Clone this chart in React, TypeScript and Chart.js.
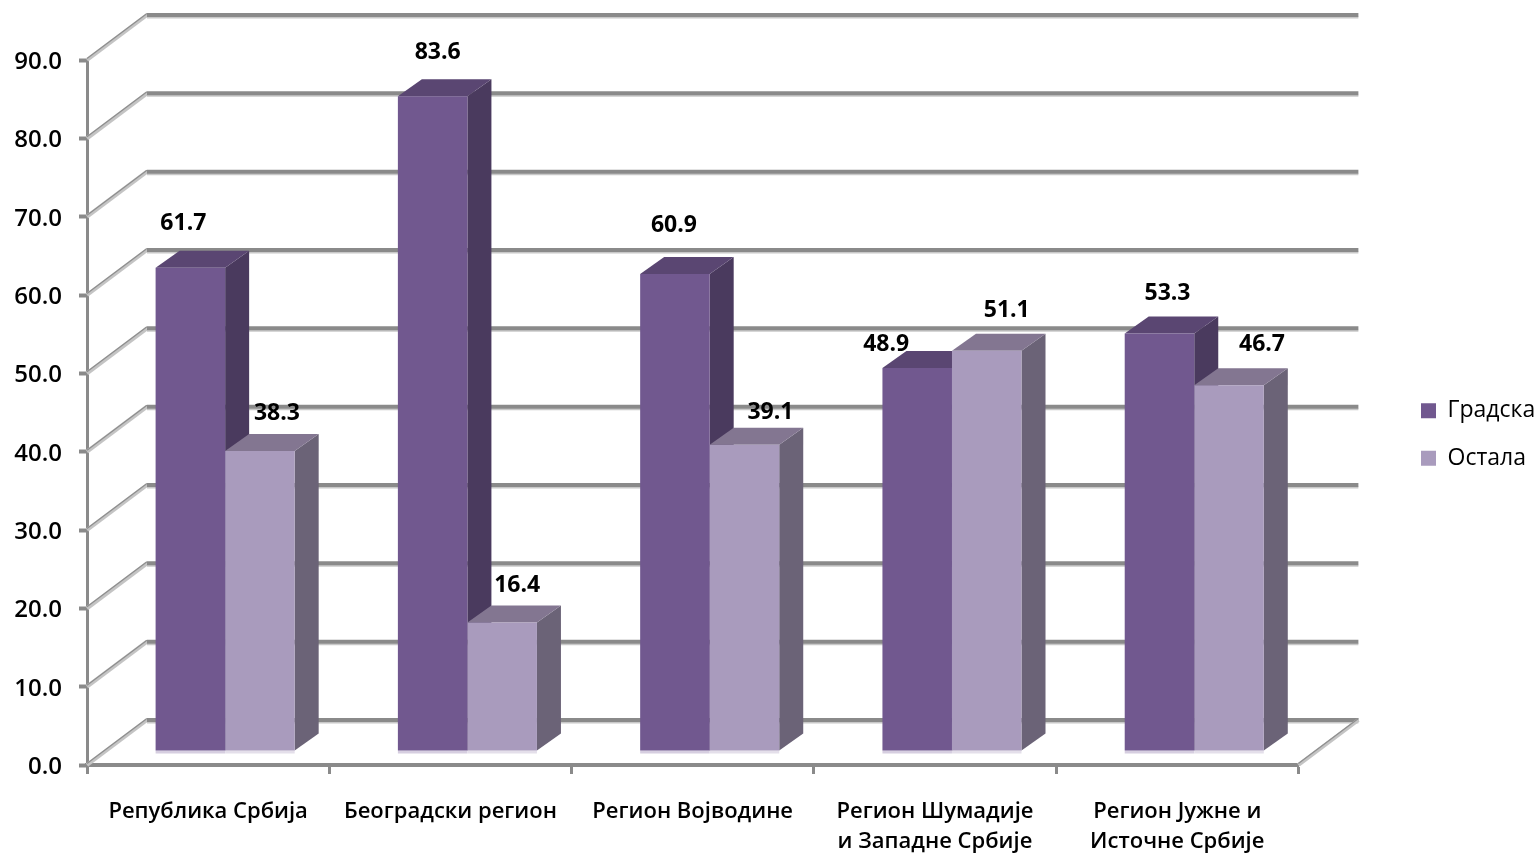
import React, { useEffect, useRef } from "react";
import { Chart, registerables } from "chart.js";

Chart.register(...registerables);

const categories = [
  "Република Србија",
  "Београдски регион",
  "Регион Војводине",
  ["Регион Шумадије", "и Западне Србије"],
  ["Регион Јужне и", "Источне Србије"],
];
const gradska = [61.7, 83.6, 60.9, 48.9, 53.3];
const ostala = [38.3, 16.4, 39.1, 51.1, 46.7];

// manual data-label nudges in px from the top-centre of each bar's front face
const labelNudgeGradska = [[-7, -46], [5, -46], [-1, -50], [-31, -25], [8, -42]];
const labelNudgeOstala = [[17, -40], [15, -39], [26, -34], [20, -42], [33, -43]];

const FONT = "'Open Sans', 'Liberation Sans', sans-serif";
const WALL = { dx: 60, dy: -45 };
const BAR_SHIFT = { dx: 17, dy: -14 };
const DEPTH = { dx: 24, dy: -17 };
const FACES = [
  { front: "#71588F", top: "#5A4672", side: "#4A3A5E", strip: "#D6CEE0" },
  { front: "#A99BBD", top: "#837691", side: "#6B6377", strip: "#E4DFEA" },
];
const LABEL_NUDGES = [labelNudgeGradska, labelNudgeOstala];

function drawDepthFaces(chart: any, index: number) {
  const { ctx } = chart;
  const face = FACES[index];
  chart.getDatasetMeta(index).data.forEach((bar: any) => {
    const l = bar.x - bar.width / 2;
    const r = bar.x + bar.width / 2;
    const t = bar.y;
    const b = bar.base;
    ctx.fillStyle = face.strip;
    ctx.fillRect(l, b, r - l, 3);
    ctx.fillStyle = face.side;
    ctx.beginPath();
    ctx.moveTo(r, t);
    ctx.lineTo(r + DEPTH.dx, t + DEPTH.dy);
    ctx.lineTo(r + DEPTH.dx, b + DEPTH.dy);
    ctx.lineTo(r, b);
    ctx.closePath();
    ctx.fill();
    ctx.fillStyle = face.top;
    ctx.beginPath();
    ctx.moveTo(l, t);
    ctx.lineTo(l + DEPTH.dx, t + DEPTH.dy);
    ctx.lineTo(r + DEPTH.dx, t + DEPTH.dy);
    ctx.lineTo(r, t);
    ctx.closePath();
    ctx.fill();
  });
}

const wallPlugin = {
  id: "wall3d",
  beforeDatasetsDraw(chart: any) {
    const { ctx, chartArea, scales } = chart;
    const { left, right } = chartArea;
    const yScale = scales.y;
    ctx.save();
    ctx.lineCap = "butt";
    yScale.ticks.forEach((_: any, i: number) => {
      const y = yScale.getPixelForTick(i);
      // side-wall diagonal
      ctx.strokeStyle = "#C4C4C4";
      ctx.lineWidth = 4;
      ctx.beginPath();
      ctx.moveTo(left, y);
      ctx.lineTo(left + WALL.dx, y + WALL.dy);
      ctx.stroke();
      ctx.strokeStyle = "#8E8E8E";
      ctx.lineWidth = 1.2;
      ctx.beginPath();
      ctx.moveTo(left, y - 1.5);
      ctx.lineTo(left + WALL.dx, y + WALL.dy - 1.5);
      ctx.stroke();
      // back-wall line
      ctx.strokeStyle = "#C8C8C8";
      ctx.lineWidth = 2;
      ctx.beginPath();
      ctx.moveTo(left + WALL.dx, y + WALL.dy + 2.5);
      ctx.lineTo(right + WALL.dx, y + WALL.dy + 2.5);
      ctx.stroke();
      ctx.strokeStyle = "#8A8A8A";
      ctx.lineWidth = 4;
      ctx.beginPath();
      ctx.moveTo(left + WALL.dx, y + WALL.dy);
      ctx.lineTo(right + WALL.dx, y + WALL.dy);
      ctx.stroke();
    });
    // floor, right edge
    const y0 = yScale.getPixelForValue(0);
    ctx.strokeStyle = "#C4C4C4";
    ctx.lineWidth = 4;
    ctx.beginPath();
    ctx.moveTo(right, y0);
    ctx.lineTo(right + WALL.dx, y0 + WALL.dy);
    ctx.stroke();
    ctx.strokeStyle = "#8E8E8E";
    ctx.lineWidth = 1.2;
    ctx.beginPath();
    ctx.moveTo(right, y0 - 1.5);
    ctx.lineTo(right + WALL.dx, y0 + WALL.dy - 1.5);
    ctx.stroke();
    ctx.restore();
  },
  // Chart.js draws dataset 1 first and dataset 0 last. Depth faces of the left
  // bar must lie beneath the right bar's front, so they are all painted before dataset 1.
  beforeDatasetDraw(chart: any, args: any) {
    const { ctx } = chart;
    ctx.save();
    ctx.translate(BAR_SHIFT.dx, BAR_SHIFT.dy);
    if (args.index === 1) {
      drawDepthFaces(chart, 0);
      drawDepthFaces(chart, 1);
    }
  },
  afterDatasetDraw(chart: any) {
    chart.ctx.restore();
  },
  afterDatasetsDraw(chart: any) {
    const { ctx } = chart;
    ctx.save();
    ctx.fillStyle = "#000";
    ctx.font = `700 23px ${FONT}`;
    ctx.textAlign = "center";
    ctx.textBaseline = "middle";
    chart.data.datasets.forEach((ds: any, di: number) => {
      chart.getDatasetMeta(di).data.forEach((bar: any, i: number) => {
        const [nx, ny] = LABEL_NUDGES[di][i];
        ctx.fillText(
          ds.data[i].toFixed(1),
          bar.x + BAR_SHIFT.dx + nx,
          bar.y + BAR_SHIFT.dy + ny + 2
        );
      });
    });
    ctx.restore();
  },
  afterLayout(chart: any) {
    const legend = chart.legend;
    const padding = legend.options.labels.padding;
    const width = legend.right - legend.left;
    legend.left = 1421 - padding;
    legend.right = legend.left + width;
    legend.top -= 23;
    legend.bottom -= 23;
  },
};

export default function App() {
  const ref = useRef<HTMLCanvasElement>(null);
  useEffect(() => {
    document.body.style.margin = "0";
    const chart = new Chart(ref.current as HTMLCanvasElement, {
      type: "bar",
      data: {
        labels: categories as any,
        datasets: [
          { label: "Градска", data: gradska, backgroundColor: FACES[0].front, clip: false as any },
          { label: "Остала", data: ostala, backgroundColor: FACES[1].front, clip: false as any },
        ],
      },
      options: {
        animation: false,
        responsive: false,
        devicePixelRatio: 1,
        layout: { padding: { left: 0, top: 60, right: 91, bottom: 0 } },
        datasets: { bar: { categoryPercentage: 0.574, barPercentage: 1 } },
        plugins: {
          tooltip: { enabled: false },
          legend: {
            position: "right",
            labels: {
              boxWidth: 15,
              boxHeight: 15,
              padding: 24.4,
              color: "#000",
              font: { family: FONT, size: 23, weight: "500" as any },
            },
          },
        },
        scales: {
          x: {
            afterFit(scale: any) {
              scale.height = 90;
            },
            border: { color: "#8A8A8A", width: 4 },
            grid: { drawOnChartArea: false, drawTicks: true, tickLength: 9, tickColor: "#8A8A8A", tickWidth: 3 },
            ticks: {
              color: "#000",
              padding: 22,
              maxRotation: 0,
              autoSkip: false,
              font: { family: FONT, size: 22, weight: "600" as any, lineHeight: 1.4 },
            },
          },
          y: {
            min: 0,
            max: 90,
            afterFit(scale: any) {
              scale.width = 87;
            },
            border: { color: "#8A8A8A", width: 3 },
            grid: { drawOnChartArea: false, drawTicks: true, tickLength: 8, tickColor: "#8A8A8A", tickWidth: 4 },
            ticks: {
              stepSize: 10,
              color: "#000",
              padding: 17,
              labelOffset: 2,
              font: { family: FONT, size: 24, weight: "600" as any },
              callback: (v: any) => Number(v).toFixed(1),
            },
          },
        },
      },
      plugins: [wallPlugin as any],
    });
    return () => chart.destroy();
  }, []);
  return (
    <div style={{ width: 1538, height: 855 }}>
      <canvas ref={ref} width={1538} height={855} style={{ display: "block", filter: "blur(0.5px)" }} />
    </div>
  );
}
